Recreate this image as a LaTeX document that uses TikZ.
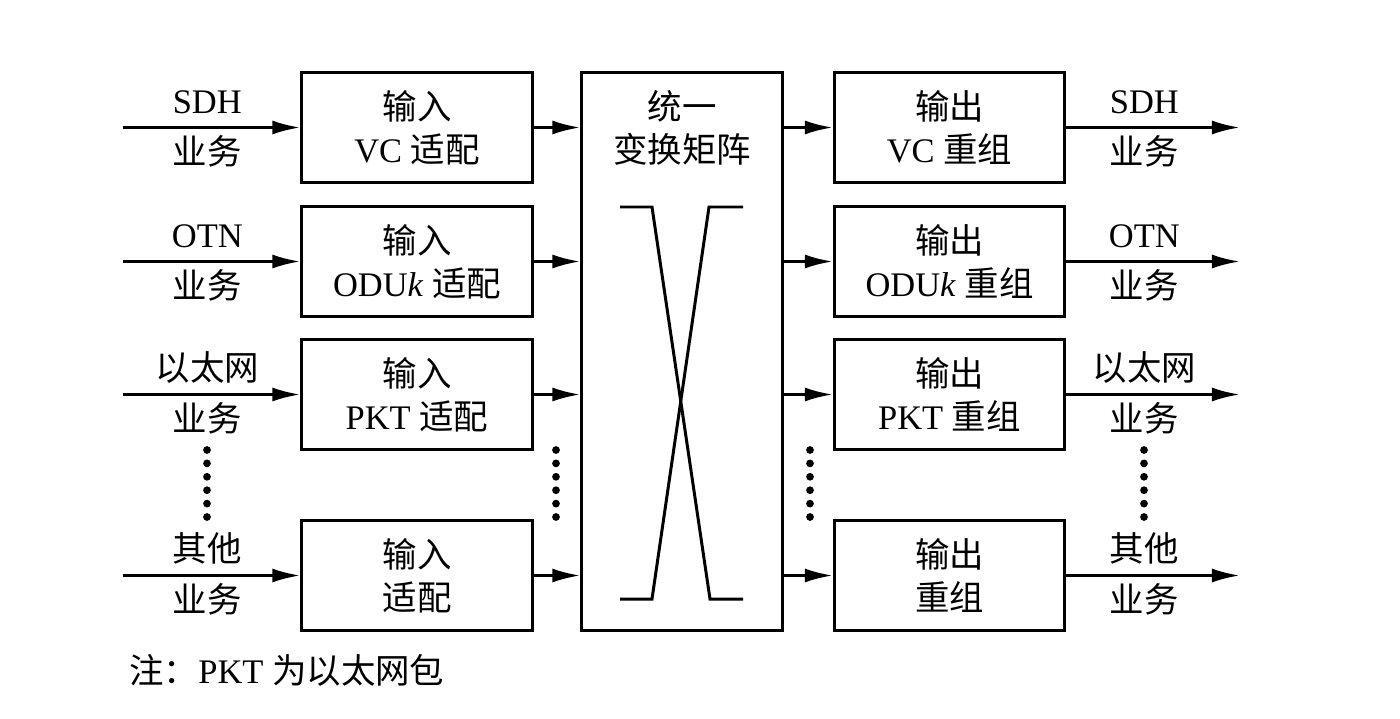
\documentclass[tikz,border=0pt]{standalone}
\usepackage{fontspec}
\setmainfont{Liberation Serif}
\newfontfamily\cjk{Noto Sans CJK SC}
\newcommand{\zh}[1]{{\cjk #1}}
\usetikzlibrary{arrows.meta}

\begin{document}
\begin{tikzpicture}[x=0.01cm,y=-0.01cm,>={Latex[length=8pt,width=4pt]},
  line width=0.85pt,font=\fontsize{9.8}{12.2}\selectfont,
  blk/.style={draw,minimum width=2.3cm,minimum height=1.09cm,align=center,inner sep=0pt},
  lbl/.style={inner sep=0pt,text height=0.75em,text depth=0.15em},
  dotc/.style={fill,circle,inner sep=0pt,minimum size=2.2pt}]
  \useasboundingbox (0,0) rectangle (1400,718);

  % adaptation blocks (input side)
  \node[blk] (in1) at (417,127.5) {\zh{输入}\\VC \zh{适配}};
  \node[blk] (in2) at (417,261.5) {\zh{输入}\\ODU\textit{k} \zh{适配}};
  \node[blk] (in3) at (417,394.5) {\zh{输入}\\PKT \zh{适配}};
  \node[blk] (in4) at (417,575.5) {\zh{输入}\\\zh{适配}};

  % switching matrix
  \node[draw,minimum width=2cm,minimum height=5.57cm,inner sep=0pt] (mat) at (682,351.5) {};
  \node[align=center] (mattxt) at (682,128) {\zh{统一}\\\zh{变换矩阵}};
  \draw (620,207) -- (652,207) -- (710,599) -- (743,599);
  \draw (620,599) -- (652,599) -- (709,207) -- (743,207);

  % reassembly blocks (output side)
  \node[blk] (out1) at (949.5,127.5) {\zh{输出}\\VC \zh{重组}};
  \node[blk] (out2) at (949.5,261.5) {\zh{输出}\\ODU\textit{k} \zh{重组}};
  \node[blk] (out3) at (949.5,394.5) {\zh{输出}\\PKT \zh{重组}};
  \node[blk] (out4) at (949.5,575.5) {\zh{输出}\\\zh{重组}};

  % service ends
  \coordinate (s1) at (123,127.5); \coordinate (t1) at (1240,127.5);
  \coordinate (s2) at (123,261.5); \coordinate (t2) at (1240,261.5);
  \coordinate (s3) at (123,394.5); \coordinate (t3) at (1240,394.5);
  \coordinate (s4) at (123,575.5); \coordinate (t4) at (1240,575.5);

  \draw[->] (s1) -- (in1) node[lbl,pos=.475,yshift=0.25cm]{SDH} node[lbl,pos=.475,yshift=-0.26cm]{\zh{业务}};
  \draw[->] (s2) -- (in2) node[lbl,pos=.475,yshift=0.25cm]{OTN} node[lbl,pos=.475,yshift=-0.26cm]{\zh{业务}};
  \draw[->] (s3) -- (in3) node[lbl,pos=.475,yshift=0.25cm]{\zh{以太网}} node[lbl,pos=.475,yshift=-0.26cm]{\zh{业务}};
  \draw[->] (s4) -- (in4) node[lbl,pos=.475,yshift=0.25cm]{\zh{其他}} node[lbl,pos=.475,yshift=-0.26cm]{\zh{业务}};

  \foreach \r in {1,2,3,4} {
    \draw[->] (in\r) -- (in\r -| mat.west);
    \draw[->] (mat.east |- out\r) -- (out\r);
  }

  \draw[->] (out1) -- (t1) node[lbl,pos=.45,yshift=0.25cm]{SDH} node[lbl,pos=.45,yshift=-0.26cm]{\zh{业务}};
  \draw[->] (out2) -- (t2) node[lbl,pos=.45,yshift=0.25cm]{OTN} node[lbl,pos=.45,yshift=-0.26cm]{\zh{业务}};
  \draw[->] (out3) -- (t3) node[lbl,pos=.45,yshift=0.25cm]{\zh{以太网}} node[lbl,pos=.45,yshift=-0.26cm]{\zh{业务}};
  \draw[->] (out4) -- (t4) node[lbl,pos=.45,yshift=0.25cm]{\zh{其他}} node[lbl,pos=.45,yshift=-0.26cm]{\zh{业务}};

  % vertical ellipses
  \foreach \x in {207,556,810,1144}
    \foreach \k in {0,...,5}
      \node[dotc] at (\x,450+13.4*\k) {};

  % note
  \node[anchor=west,inner sep=0pt] (note) at (128,670) {\zh{注：}PKT \zh{为以太网包}};
\end{tikzpicture}
\end{document}
